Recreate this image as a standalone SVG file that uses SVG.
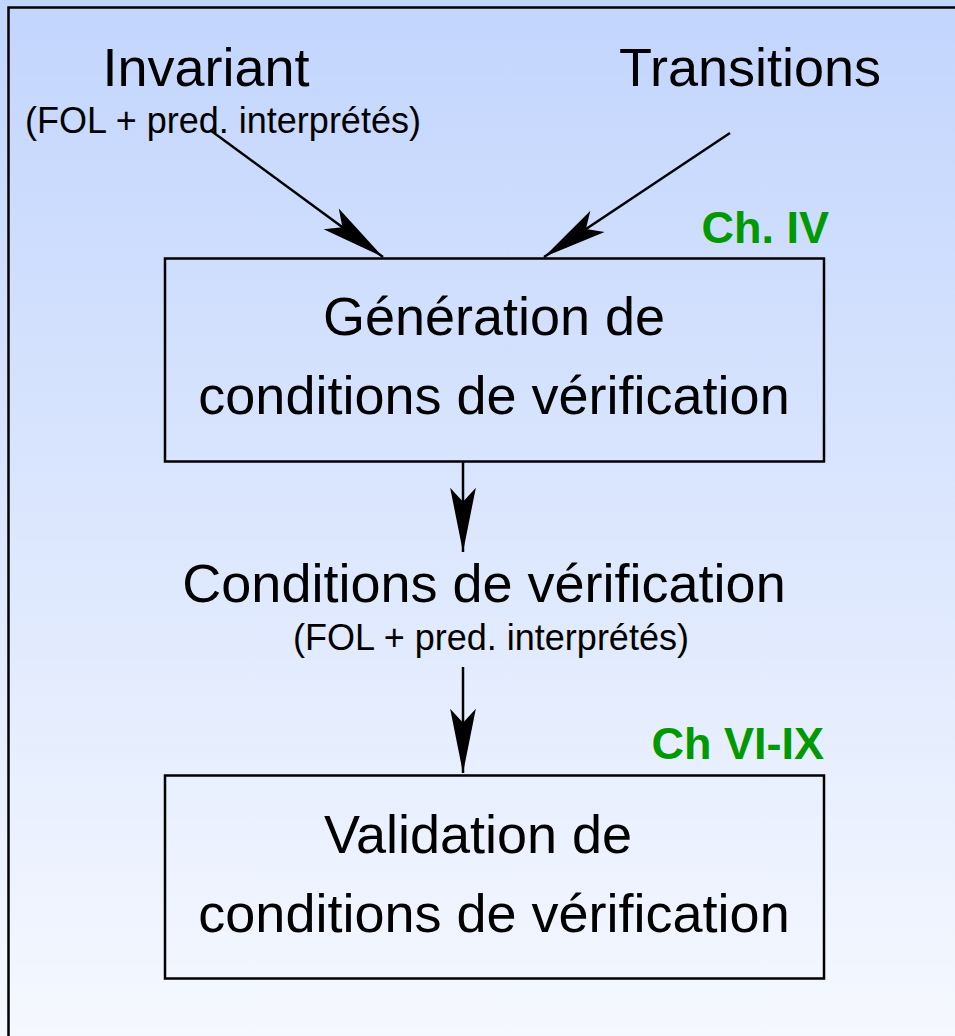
<svg xmlns="http://www.w3.org/2000/svg" width="955" height="1036" viewBox="0 0 955 1036">
<defs>
<linearGradient id="bg" x1="0" y1="0" x2="0" y2="1">
<stop offset="0" stop-color="#c2d5fd"/>
<stop offset="1" stop-color="#f5f8fe"/>
</linearGradient>
<marker id="ah" markerUnits="userSpaceOnUse" markerWidth="70" markerHeight="30" viewBox="-62 -14 64 28" refX="0" refY="0" orient="auto">
<path d="M0,0 L-60,-12 L-47,0 L-60,12 Z" fill="#000"/>
</marker>
<style>
.t{font-family:"Liberation Sans",Arial,sans-serif;fill:#000;text-anchor:middle}
.big{font-size:54px}
.small{font-size:36px}
.ch{font-family:"Liberation Sans",Arial,sans-serif;font-weight:bold;font-size:45px;fill:#009900;text-anchor:end}
.box{fill:none;stroke:#000;stroke-width:2.5}
.con{stroke:#000;stroke-width:2.5;fill:none;marker-end:url(#ah)}
</style>
</defs>
<rect x="0" y="0" width="955" height="1036" fill="url(#bg)"/>
<path d="M8.5,1036 V7.5 H955" fill="none" stroke="#000" stroke-width="2.5"/>
<g id="invariant">
<text class="t big" x="206" y="86">Invariant</text>
<text class="t small" x="223" y="133">(FOL + pred. interprétés)</text>
</g>
<g id="transitions">
<text class="t big" x="750" y="86">Transitions</text>
</g>
<g id="generation">
<rect class="box" x="165" y="258.5" width="659" height="203"/>
<text class="t big" x="494" y="335">Génération de</text>
<text class="t big" x="494" y="414">conditions de vérification</text>
<text class="ch" x="829" y="243">Ch. IV</text>
</g>
<g id="conditions">
<text class="t big" x="484" y="602">Conditions de vérification</text>
<text class="t small" x="491" y="650">(FOL + pred. interprétés)</text>
</g>
<g id="validation">
<rect class="box" x="165" y="775.5" width="659" height="203"/>
<text class="t big" x="478" y="853">Validation de</text>
<text class="t big" x="494" y="932">conditions de vérification</text>
<text class="ch" x="824" y="759">Ch VI-IX</text>
</g>
<g id="connectors">
<line class="con" x1="210" y1="130" x2="383" y2="257"/>
<line class="con" x1="730" y1="133" x2="544" y2="257"/>
<line class="con" x1="463" y1="461" x2="463" y2="552"/>
<line class="con" x1="463" y1="667" x2="463" y2="773"/>
</g>
</svg>
